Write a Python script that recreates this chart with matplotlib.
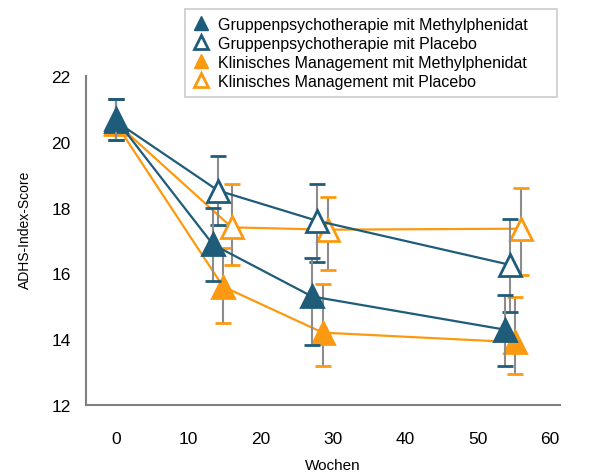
import matplotlib.pyplot as plt
from matplotlib.lines import Line2D

plt.rcParams['font.family'] = ['Liberation Sans', 'DejaVu Sans']

# Wochen (leicht versetzt je Gruppe), Mittelwerte und Fehlergrenzen
gp_mph_x = [0, 13.4, 27.1, 53.8]
gp_mph_y = [20.68, 16.88, 15.3, 14.29]
gp_mph_lo = [20.06, 15.77, 13.83, 13.18]
gp_mph_hi = [21.31, 17.99, 16.47, 15.35]

gp_pla_x = [0, 14.1, 27.8, 54.5]
gp_pla_y = [20.62, 18.52, 17.6, 16.26]
gp_pla_lo = [20.06, 17.47, 16.35, 14.82]
gp_pla_hi = [21.31, 19.57, 18.73, 17.66]

km_mph_x = [0, 14.8, 28.6, 55.2]
km_mph_y = [20.55, 15.6, 14.2, 13.91]
km_mph_lo = [20.06, 14.49, 13.18, 12.94]
km_mph_hi = [21.31, 16.77, 15.68, 15.28]

km_pla_x = [0, 16.0, 29.3, 56.0]
km_pla_y = [20.58, 17.4, 17.33, 17.36]
km_pla_lo = [20.06, 16.25, 16.1, 15.96]
km_pla_hi = [21.31, 18.72, 18.32, 18.6]

labels = ["Gruppenpsychotherapie mit Methylphenidat",
          "Gruppenpsychotherapie mit Placebo",
          "Klinisches Management mit Methylphenidat",
          "Klinisches Management mit Placebo"]

blue = "#1f5c7a"
orange = "#fb9a10"
gray = "#8c8c8c"

fig = plt.figure(figsize=(5.94, 4.77), dpi=100)
ax = fig.add_axes([0.1448, 0.1488, 0.798, 0.6897])

series = [
    (km_pla_x, km_pla_y, km_pla_lo, km_pla_hi, orange, False, 3),
    (km_mph_x, km_mph_y, km_mph_lo, km_mph_hi, orange, True, 4),
    (gp_pla_x, gp_pla_y, gp_pla_lo, gp_pla_hi, blue, False, 5),
    (gp_mph_x, gp_mph_y, gp_mph_lo, gp_mph_hi, blue, True, 6),
]

for x, y, lo, hi, col, filled, z in series:
    yerr = [[m - l for m, l in zip(y, lo)], [h - m for m, h in zip(y, hi)]]
    line, caps, bars = ax.errorbar(x, y, yerr=yerr, color=col, lw=1.6,
                                   marker="^", markersize=16,
                                   markerfacecolor=col if filled else "white",
                                   markeredgecolor=col, markeredgewidth=2,
                                   ecolor=gray, elinewidth=1.5, capsize=5.5,
                                   capthick=1.8, zorder=z)
    for c in caps:
        c.set_markeredgecolor(col)
        c.set_zorder(z)
    for b in bars:
        b.set_zorder(z - 0.5)

ax.set_xlim(-4.15, 61.4)
ax.set_ylim(12, 22)
ax.set_xticks([0, 10, 20, 30, 40, 50, 60])
ax.set_yticks([12, 14, 16, 18, 20, 22])
ax.tick_params(length=0, labelsize=12.5)
ax.tick_params(axis="x", pad=19)
ax.tick_params(axis="y", pad=11)
for s in ["top", "right"]:
    ax.spines[s].set_visible(False)
for s in ["left", "bottom"]:
    ax.spines[s].set_color("#7f7f7f")
    ax.spines[s].set_linewidth(1.5)

ax.set_xlabel("Wochen", fontsize=11)
ax.set_ylabel("ADHS-Index-Score", fontsize=10)
ax.xaxis.set_label_coords(0.521, -0.161)
ax.yaxis.set_label_coords(-0.115, 0.535)

handles = [
    Line2D([], [], ls="none", marker="^", markersize=10.5, color=blue),
    Line2D([], [], ls="none", marker="^", markersize=10.5, markerfacecolor="white",
           markeredgecolor=blue, markeredgewidth=2),
    Line2D([], [], ls="none", marker="^", markersize=10.5, color=orange),
    Line2D([], [], ls="none", marker="^", markersize=10.5, markerfacecolor="white",
           markeredgecolor=orange, markeredgewidth=2),
]
leg = fig.legend(handles, labels, loc="upper left",
                 bbox_to_anchor=(0.311, 0.794, 0.627, 0.185), mode="expand",
                 borderaxespad=0, fontsize=11.5, frameon=True, fancybox=False,
                 edgecolor="#bfbfbf", handlelength=1.0, handletextpad=0.6,
                 labelspacing=0.25, borderpad=0.5)
leg.get_frame().set_linewidth(1.2)

fig.savefig("out.png", dpi=100)
